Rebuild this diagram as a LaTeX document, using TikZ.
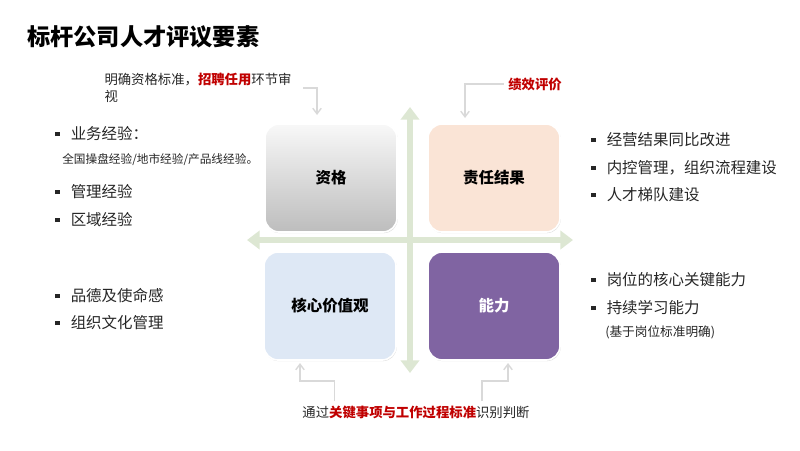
\documentclass[tikz,border=0pt]{standalone}
\usepackage{fontspec}
\setmainfont{Noto Sans CJK SC}
\usetikzlibrary{arrows.meta,shadows}
\definecolor{accentRed}{HTML}{C00000}
\definecolor{textGray}{HTML}{262626}
\definecolor{noteGray}{HTML}{D9D9D9}
\definecolor{axisGreen}{HTML}{DDE7D3}
\definecolor{qualTop}{HTML}{F8F8F8}
\definecolor{qualBottom}{HTML}{BDBDBD}
\definecolor{resultPeach}{HTML}{FAE4D6}
\definecolor{valueBlue}{HTML}{DEE8F5}
\definecolor{abilityPurple}{HTML}{8064A2}
\newcommand{\sqmark}{\rule[0.24em]{0.28em}{0.28em}\hspace{0.72em}}
\tikzset{
    quad/.style={draw=white,line width=1.2pt,rounded corners=10pt,
        minimum width=3.3cm,minimum height=2.7cm,align=center,
        font=\fontsize{11}{13}\selectfont\bfseries,
        drop shadow={opacity=0.3,shadow xshift=0.5pt,shadow yshift=-0.8pt}},
    axis/.style={{Triangle[width=13pt,length=9pt]}-{Triangle[width=13pt,length=9pt]},
        draw=axisGreen,line width=4pt},
    titletext/.style={anchor=west,inner sep=0pt,font=\fontsize{16.5}{20}\selectfont\bfseries},
    item/.style={anchor=west,inner sep=0pt,text=textGray,font=\fontsize{11}{13}\selectfont},
    subitem/.style={anchor=west,inner sep=0pt,text=textGray,font=\fontsize{8.3}{10}\selectfont},
    note/.style={inner sep=3pt,text=textGray,font=\fontsize{9.5}{12}\selectfont},
    noteline/.style={-{Straight Barb[length=4pt,width=6pt]},draw=noteGray,line width=1pt}
}
\begin{document}
\begin{tikzpicture}[x=0.025cm,y=-0.025cm]
    \useasboundingbox (0,0) rectangle (800,450);
    \node[titletext] (title) at (27,37) {标杆公司人才评议要素};
    % axes
    \coordinate (axTop) at (410,107);
    \coordinate (axBottom) at (410,373);
    \coordinate (axLeft) at (247,240);
    \coordinate (axRight) at (573,240);
    \draw[axis] (axBottom) -- (axTop);
    \draw[axis] (axLeft) -- (axRight);
    % quadrants
    \node[quad,top color=qualTop,bottom color=qualBottom] (qual) at (331,178) {资格};
    \node[quad,fill=resultPeach] (result) at (494,178) {责任结果};
    \node[quad,fill=valueBlue] (value) at (330,306) {核心价值观};
    \node[quad,fill=abilityPurple,text=white] (ability) at (494,306) {能力};
    % notes
    \node[note,anchor=north west,align=left] (annQual) at (100,69) {明确资格标准，\textcolor{accentRed}{\bfseries 招聘任用}环节审\\视};
    \coordinate (qualIn) at (317,115);
    \draw[noteline] ([xshift=5pt]annQual.east) -| (qualIn);
    \node[note,text=accentRed,font=\fontsize{9.5}{12}\selectfont\bfseries] (annPerf) at (535,84) {绩效评价};
    \coordinate (perfIn) at (465,118);
    \draw[noteline] (annPerf.west) -| (perfIn);
    \node[note] (annJudge) at (416,412) {通过\textcolor{accentRed}{\bfseries 关键事项与工作过程标准}识别判断};
    \coordinate (valIn) at (300,363);
    \coordinate (abilIn) at (508,363);
    \draw[noteline] ([xshift=26pt]annJudge.north west) -- ++(0,-20) -| (valIn);
    \draw[noteline] ([xshift=-37pt]annJudge.north east) -- ++(0,-20) -| (abilIn);
    % left items
    \node[item] (expBiz) at (55,134) {\sqmark 业务经验：};
    \node[subitem] (expBizSub) at (62,160) {全国操盘经验/地市经验/产品线经验。};
    \node[item] (expMgmt) at (55,192) {\sqmark 管理经验};
    \node[item] (expRegion) at (55,220) {\sqmark 区域经验};
    \node[item] (valMoral) at (55,296) {\sqmark 品德及使命感};
    \node[item] (valCulture) at (55,323) {\sqmark 组织文化管理};
    % right items
    \node[item] (resGrowth) at (591,140) {\sqmark 经营结果同比改进};
    \node[item] (resControl) at (591,168) {\sqmark 内控管理，组织流程建设};
    \node[item] (resTalent) at (591,195) {\sqmark 人才梯队建设};
    \node[item] (abiCore) at (591,280) {\sqmark 岗位的核心关键能力};
    \node[item] (abiLearn) at (591,308) {\sqmark 持续学习能力};
    \node[subitem,font=\fontsize{9}{11}\selectfont] (abiNote) at (605,332) {(基于岗位标准明确)};
\end{tikzpicture}
\end{document}
